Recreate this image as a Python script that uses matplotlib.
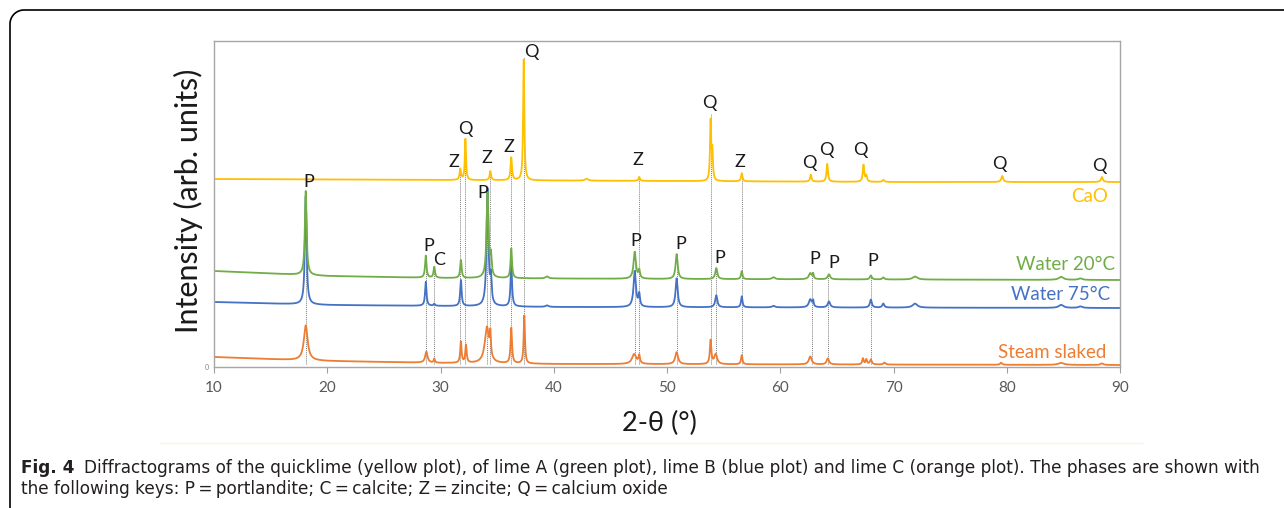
import numpy as np
import matplotlib.pyplot as plt
from matplotlib.lines import Line2D

W, H = 1284, 508
plt.rcParams['font.family'] = ['Lato', 'DejaVu Sans']

# baselines: (2-theta, intensity) anchors, intensity in arb. units
cao_base_x = [10, 30, 50, 70, 90]
cao_base_y = [188, 187, 186, 185, 185]
w20_base_x = [10, 20, 30, 50, 90]
w20_base_y = [96, 91, 89, 88, 87]
w75_base_x = [10, 20, 40, 90]
w75_base_y = [65, 62, 60, 59]
steam_base_x = [10, 17, 20, 30, 40, 90]
steam_base_y = [10, 7, 6, 4, 3, 2]

# peaks: position (deg), height above baseline, FWHM (deg)
cao_pos = [31.75, 32.2, 34.4, 36.25, 37.35, 42.9, 47.55, 53.85, 54.0, 56.6, 62.7, 64.15, 67.35, 67.6, 69.1, 79.6, 88.4]
cao_hgt = [11, 41, 9, 23, 124, 2, 4, 60, 28, 8, 7, 18, 17, 6, 2, 6, 5]
cao_fwhm = [0.15, 0.12, 0.15, 0.15, 0.12, 0.3, 0.15, 0.12, 0.12, 0.15, 0.15, 0.15, 0.15, 0.15, 0.2, 0.2, 0.2]

w20_pos = [18.1, 28.7, 29.45, 31.8, 34.15, 34.45, 36.25, 39.4, 47.15, 47.55, 50.85, 54.35, 56.6, 59.4, 62.65, 62.9, 64.3, 68.0, 69.1, 71.9, 84.8, 86.5]
w20_hgt = [84, 22, 11, 18, 86, 20, 30, 2, 27, 8, 25, 11, 8, 2, 6, 5, 5, 4, 2, 3, 3, 1.5]
w20_fwhm = [0.18, 0.15, 0.15, 0.15, 0.2, 0.15, 0.15, 0.3, 0.25, 0.15, 0.22, 0.22, 0.15, 0.3, 0.3, 0.12, 0.25, 0.2, 0.2, 0.5, 0.5, 0.4]

w75_pos = [18.1, 28.7, 29.45, 31.8, 34.15, 34.45, 36.25, 39.4, 47.15, 47.55, 50.85, 54.35, 56.6, 59.4, 62.65, 62.9, 64.3, 68.0, 69.1, 71.9, 84.8, 86.5]
w75_hgt = [108, 24, 2, 26, 118, 25, 44, 1.5, 36, 12, 29, 12, 11, 1.5, 8, 6, 6, 8, 4, 4, 3, 1.5]
w75_fwhm = [0.18, 0.15, 0.15, 0.15, 0.2, 0.15, 0.15, 0.3, 0.25, 0.15, 0.22, 0.22, 0.15, 0.3, 0.3, 0.12, 0.25, 0.2, 0.2, 0.5, 0.5, 0.4]

steam_pos = [18.1, 28.75, 29.45, 31.8, 32.25, 34.1, 34.4, 36.25, 37.4, 47.1, 47.55, 50.85, 53.85, 54.3, 56.6, 62.65, 64.2, 67.3, 67.6, 68.0, 69.2, 79.5, 84.8, 88.4]
steam_hgt = [35, 11, 4, 21, 18, 36, 22, 36, 48, 10, 8, 12, 24, 10, 9, 8, 6, 6, 5, 5, 2, 2, 2, 1.5]
steam_fwhm = [0.4, 0.25, 0.12, 0.14, 0.14, 0.45, 0.12, 0.15, 0.13, 0.45, 0.15, 0.3, 0.15, 0.3, 0.15, 0.3, 0.25, 0.15, 0.15, 0.2, 0.2, 0.2, 0.6, 0.3]

series_names = ['CaO', 'Water 20\u00b0C', 'Water 75\u00b0C', 'Steam slaked']
series_colors = ['#FFC000', '#70AD47', '#4472C4', '#ED7D31']
name_x = [88.9, 89.6, 89.15, 88.8]
name_y = [170, 103, 73, 15]

# phase labels: text, 2-theta, intensity
lab_text = ['Z', 'Q', 'Z', 'Z', 'Q', 'Z', 'Q', 'Z', 'Q', 'Q', 'Q', 'Q', 'Q',
            'P', 'P', 'C', 'P', 'P', 'P', 'P', 'P', 'P', 'P']
lab_x = [31.2, 32.17, 34.1, 36.06, 38.0, 47.46, 53.7, 56.4, 62.56, 64.06, 67.07, 79.35, 88.2,
         18.39, 28.95, 29.85, 33.76, 47.28, 51.17, 54.7, 63.09, 64.68, 68.2]
lab_y = [205, 238, 209, 220, 315, 207, 264, 205, 204, 217, 217, 203, 201,
         185, 121, 107, 174, 126, 123, 109, 108, 104, 106]

# dotted guide lines: 2-theta, top intensity
guide_x = [18.1, 28.7, 29.45, 31.75, 32.2, 34.15, 34.4, 36.25, 37.35, 47.15, 47.55, 50.85, 53.85, 54.35, 56.6, 62.8, 64.25, 68.0]
guide_top = [175, 111, 100, 197, 227, 182, 195, 209, 310, 116, 190, 113, 253, 99, 195, 96, 92, 91]

two_theta = np.arange(10, 90.001, 0.02)


def pattern(bx, by, pos, hgt, fwhm):
    y = np.interp(two_theta, bx, by)
    for p, h, w in zip(pos, hgt, fwhm):
        g = w / 2
        y = y + h * g**2 / ((two_theta - p)**2 + g**2)
    return y


curves = [
    pattern(cao_base_x, cao_base_y, cao_pos, cao_hgt, cao_fwhm),
    pattern(w20_base_x, w20_base_y, w20_pos, w20_hgt, w20_fwhm),
    pattern(w75_base_x, w75_base_y, w75_pos, w75_hgt, w75_fwhm),
    pattern(steam_base_x, steam_base_y, steam_pos, steam_hgt, steam_fwhm),
]

fig = plt.figure(figsize=(W / 100, H / 100), dpi=100)
ax = fig.add_axes([214 / W, 141 / H, 906 / W, 326 / H])

for gx, gt in zip(guide_x, guide_top):
    ax.plot([gx, gx], [3, gt], color='#808080', lw=0.7, ls=(0, (1, 1)), zorder=1)

for y, c in zip(curves[::-1], series_colors[::-1]):
    ax.plot(two_theta, y, color=c, lw=1.3, zorder=2)

for t, x, y in zip(lab_text, lab_x, lab_y):
    ax.text(x, y, t, ha='center', va='center', fontsize=13, color='#1a1a1a', zorder=3)

for x, y, n, c in zip(name_x, name_y, series_names, series_colors):
    ax.text(x, y, n, ha='right', va='center', fontsize=13.5, color=c)

ax.set_xlim(10, 90)
ax.set_ylim(0, 326)
ax.set_xticks(np.arange(10, 91, 10))
ax.set_yticks([0])
ax.tick_params(axis='x', direction='out', length=4, color='#A0A0A0', labelcolor='#595959',
               labelsize=11, pad=6)
ax.tick_params(axis='y', length=0, labelsize=5, labelcolor='#808080', pad=4)
for s in ax.spines.values():
    s.set_color('#A6A6A6')
    s.set_linewidth(1.0)

fig.text(188 / W, 1 - 201 / H, 'Intensity (arb. units)', rotation=90, ha='center', va='center',
         fontsize=22, color='#1a1a1a')
fig.text(659 / W, 1 - 423 / H, '2-\u03b8 (\u00b0)', ha='center', va='center', fontsize=19.5,
         color='#1a1a1a')

# faint edge of the embedded chart
fig.add_artist(Line2D([160 / W, 1143 / W], [1 - 443 / H] * 2, color='#F6F6E2', lw=1))

# caption
cap_font = ['DejaVu Sans']
fig.text(21 / W, 1 - 468 / H, 'Fig. 4', fontsize=12.15, fontweight='bold', va='center',
         color='#231F20', family=cap_font)
fig.text(84 / W, 1 - 468 / H,
         'Diffractograms of the quicklime (yellow plot), of lime A (green plot), lime B (blue plot) and lime C (orange plot). The phases are shown with',
         fontsize=12.15, va='center', color='#231F20', family=cap_font)
fig.text(21 / W, 1 - 489 / H,
         'the following keys: P\u2009=\u2009portlandite; C\u2009=\u2009calcite; Z\u2009=\u2009zincite; Q\u2009=\u2009calcium oxide',
         fontsize=12.15, va='center', color='#231F20', family=cap_font)

# rounded frame
r = 14
t = np.linspace(np.pi, np.pi / 2, 20)
fx = np.concatenate([[10], 10 + r + r * np.cos(t), [W + 5]])
fy = np.concatenate([[-5], H - 10 - r + r * np.sin(t), [H - 10]])
fig.add_artist(Line2D(fx / W, fy / H, color='black', lw=1.2))

fig.savefig('out.png', dpi=100)
